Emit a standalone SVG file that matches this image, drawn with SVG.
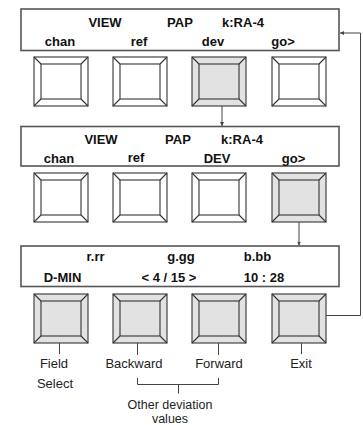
<svg xmlns="http://www.w3.org/2000/svg" width="363" height="425" viewBox="0 0 363 425">
<style>
.panel{fill:#fff;stroke:#555;stroke-width:1.6}
.btn{stroke:#333;stroke-width:1.1}
.off{fill:#fff}
.on{fill:#e2e2e2}
.bt{font-family:"Liberation Sans",Arial,sans-serif;font-size:13px;font-weight:bold;fill:#111;text-anchor:middle}
.lt{font-family:"Liberation Sans",Arial,sans-serif;font-size:13px;fill:#222;text-anchor:middle}
.con{fill:none;stroke:#444;stroke-width:1}
</style>
<defs>
<marker id="ah" viewBox="0 0 6 6" refX="6" refY="3" markerWidth="4" markerHeight="4" orient="auto"><path d="M0,0L6,3L0,6z" fill="#444" stroke="none"/></marker>
<g id="btnshape">
<rect x="0" y="0" width="54" height="49"/>
<rect x="7" y="7" width="40" height="35"/>
<path d="M0,0L7,7M54,0L47,7M0,49L7,42M54,49L47,42" fill="none"/>
</g>
</defs>

<g id="panel1">
<rect class="panel" x="21" y="9" width="318" height="41.5"/>
<text class="bt" x="105" y="27">VIEW</text>
<text class="bt" x="180" y="27">PAP</text>
<text class="bt" x="243" y="27">k:RA-4</text>
<text class="bt" x="60" y="46">chan</text>
<text class="bt" x="139" y="46">ref</text>
<text class="bt" x="213" y="46">dev</text>
<text class="bt" x="283" y="46">go&gt;</text>
</g>
<g id="row1">
<use class="btn off" href="#btnshape" x="34" y="57"/>
<use class="btn off" href="#btnshape" x="113" y="57"/>
<use class="btn on" href="#btnshape" x="192" y="57"/>
<use class="btn off" href="#btnshape" x="272" y="57"/>
</g>

<g id="panel2">
<rect class="panel" x="21" y="126.5" width="318" height="39.5"/>
<text class="bt" x="101" y="144">VIEW</text>
<text class="bt" x="178" y="144">PAP</text>
<text class="bt" x="242" y="144">k:RA-4</text>
<text class="bt" x="59" y="163">chan</text>
<text class="bt" x="136" y="162">ref</text>
<text class="bt" x="217" y="163">DEV</text>
<text class="bt" x="293.5" y="163">go&gt;</text>
</g>
<g id="row2">
<use class="btn off" href="#btnshape" x="34" y="173"/>
<use class="btn off" href="#btnshape" x="113" y="173"/>
<use class="btn off" href="#btnshape" x="192" y="173"/>
<use class="btn on" href="#btnshape" x="272" y="173"/>
</g>

<g id="panel3">
<rect class="panel" x="21" y="246" width="318" height="40.5"/>
<text class="bt" x="95.5" y="261">r.rr</text>
<text class="bt" x="181" y="261">g.gg</text>
<text class="bt" x="257.5" y="261">b.bb</text>
<text class="bt" x="62.5" y="282">D-MIN</text>
<text class="bt" x="169" y="282">&lt; 4 / 15 &gt;</text>
<text class="bt" x="264" y="282">10 : 28</text>
</g>
<g id="row3">
<use class="btn on" href="#btnshape" x="34" y="294"/>
<use class="btn on" href="#btnshape" x="113" y="294"/>
<use class="btn on" href="#btnshape" x="192" y="294"/>
<use class="btn on" href="#btnshape" x="272" y="294"/>
</g>

<g id="labels">
<text class="lt" x="54" y="367.5">Field</text>
<text class="lt" x="55" y="387.5">Select</text>
<text class="lt" x="134" y="367.5">Backward</text>
<text class="lt" x="219" y="367.5">Forward</text>
<text class="lt" x="301" y="367.5">Exit</text>
<text class="lt" x="170" y="409" style="font-size:12.5px">Other deviation</text>
<text class="lt" x="170" y="422.5" style="font-size:12.5px">values</text>
</g>

<g id="connectors">
<path class="con" d="M222,106V126" marker-end="url(#ah)"/>
<path class="con" d="M299,222V245.5" marker-end="url(#ah)"/>
<path class="con" d="M326,315.5H360.5V33H340" marker-end="url(#ah)"/>
<path class="con" d="M59.5,343V354M137.5,343V355M218.5,343V355M301.5,343V354"/>
<path class="con" d="M137.5,378V384.5H218.5V378M178.5,384.5V393.5"/>
</g>
</svg>
